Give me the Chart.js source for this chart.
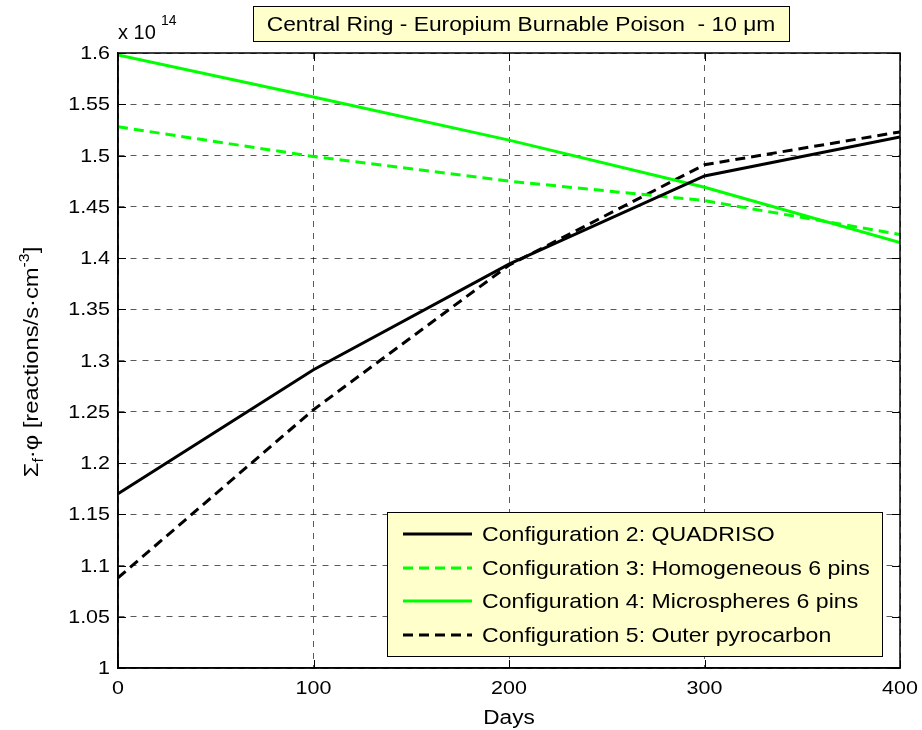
<!DOCTYPE html>
<html>
<head>
<meta charset="utf-8">
<script src="https://cdn.jsdelivr.net/npm/chart.js@4/dist/chart.umd.min.js"></script>
<style>
  body { margin: 0; background: #fff; }
  #wrap { width: 922px; height: 730px; }
</style>
</head>
<body>
<div id="wrap"><canvas id="myChart" width="922" height="730"></canvas></div>
<script>
// reaction rate in units of 1e14, sampled every 100 days
const days = [0, 100, 200, 300, 400];
const config2 = [1.170, 1.291, 1.394, 1.480, 1.518];
const config3 = [1.528, 1.499, 1.475, 1.456, 1.423];
const config4 = [1.598, 1.557, 1.515, 1.469, 1.415];
const config5 = [1.088, 1.252, 1.393, 1.491, 1.523];
const seriesNames = [
    'Configuration 2: QUADRISO',
    'Configuration 3: Homogeneous 6 pins',
    'Configuration 4: Microspheres 6 pins',
    'Configuration 5: Outer pyrocarbon'
];
const xTicks = [0, 100, 200, 300, 400];
const yTicks = [1, 1.05, 1.1, 1.15, 1.2, 1.25, 1.3, 1.35, 1.4, 1.45, 1.5, 1.55, 1.6];

const FONT = 'Arial, "Liberation Sans", Helvetica, sans-serif';
const STRETCH = 1.13; // text is drawn slightly wide
Chart.defaults.font.family = FONT;
Chart.defaults.color = '#000';

function points(values) {
    return days.map((d, i) => ({ x: d, y: values[i] }));
}

// single line of horizontally stretched text
function wideText(ctx, text, x, y, size, align, baseline, stretch) {
    ctx.save();
    ctx.font = size + 'px ' + FONT;
    ctx.textAlign = align;
    ctx.textBaseline = baseline;
    ctx.translate(x, y);
    ctx.scale(stretch || STRETCH, 1);
    ctx.fillText(text, 0, 0);
    ctx.restore();
}

// text pieces in a row with sub/superscripts, starting at 0,0 of the current transform
function richText(ctx, parts, x, y, measureOnly) {
    let w = 0;
    parts.forEach(p => {
        ctx.font = p.size + 'px ' + FONT;
        if (!measureOnly) ctx.fillText(p.t, x + w, y + (p.dy || 0));
        w += ctx.measureText(p.t).width;
    });
    return w;
}

const decorations = {
    id: 'decorations',
    afterDraw(chart) {
        const ctx = chart.ctx;
        const area = chart.chartArea;
        const xs = chart.scales.x, ys = chart.scales.y;
        ctx.save();
        ctx.fillStyle = '#000';

        // axes box
        ctx.strokeStyle = '#000';
        ctx.lineWidth = 1.5;
        ctx.strokeRect(area.left, area.top, area.right - area.left, area.bottom - area.top);

        // inward tick marks on all four sides
        ctx.lineWidth = 1;
        ctx.beginPath();
        yTicks.forEach(v => {
            const py = Math.round(ys.getPixelForValue(v)) + 0.5;
            ctx.moveTo(area.left, py); ctx.lineTo(area.left + 8, py);
            ctx.moveTo(area.right, py); ctx.lineTo(area.right - 8, py);
        });
        xTicks.forEach(v => {
            const px = Math.round(xs.getPixelForValue(v)) + 0.5;
            ctx.moveTo(px, area.bottom); ctx.lineTo(px, area.bottom - 8);
            ctx.moveTo(px, area.top); ctx.lineTo(px, area.top + 8);
        });
        ctx.stroke();

        // tick labels
        yTicks.forEach(v => {
            wideText(ctx, String(+v.toFixed(2)), area.left - 8, ys.getPixelForValue(v) + 1, 19, 'right', 'middle');
        });
        xTicks.forEach(v => {
            wideText(ctx, String(v), xs.getPixelForValue(v), 694, 19, 'center', 'alphabetic');
        });

        // title box
        ctx.fillStyle = '#ffffcc';
        ctx.fillRect(253, 6, 536, 35);
        ctx.strokeStyle = '#000';
        ctx.lineWidth = 1;
        ctx.strokeRect(253.5, 6.5, 536, 35);
        ctx.fillStyle = '#000';
        wideText(ctx, 'Central Ring - Europium Burnable Poison  - 10 \u03bcm', 521, 31, 20, 'center', 'alphabetic', 1.14);

        // exponent
        wideText(ctx, 'x 10', 118, 39, 20, 'left', 'alphabetic', 1.0);
        wideText(ctx, '14', 161, 25, 14, 'left', 'alphabetic', 1.0);

        // x axis title
        wideText(ctx, 'Days', (area.left + area.right) / 2, 724, 20, 'center', 'alphabetic');

        // y axis title, rotated
        const yParts = [
            { t: '\u03a3', size: 21 },
            { t: 'f', size: 14, dy: 5 },
            { t: '\u00b7\u03c6 [reactions/s\u00b7cm', size: 21 },
            { t: '-3', size: 14, dy: -9 },
            { t: ']', size: 21 }
        ];
        ctx.textAlign = 'left';
        ctx.textBaseline = 'alphabetic';
        const yw = richText(ctx, yParts, 0, 0, true) * STRETCH;
        ctx.save();
        ctx.translate(38, 362);
        ctx.rotate(-Math.PI / 2);
        ctx.translate(-yw / 2, 0);
        ctx.scale(STRETCH, 1);
        richText(ctx, yParts, 0, 0, false);
        ctx.restore();

        // legend
        const lx = 387, ly = 512, lw = 495, lh = 144;
        ctx.fillStyle = '#ffffcc';
        ctx.fillRect(lx, ly, lw, lh);
        ctx.strokeStyle = '#000';
        ctx.lineWidth = 1;
        ctx.strokeRect(lx + 0.5, ly + 0.5, lw, lh);
        const rows = [534, 568, 601, 635];
        chart.data.datasets.forEach((ds, i) => {
            const ry = rows[i];
            ctx.save();
            ctx.strokeStyle = ds.borderColor;
            ctx.lineWidth = ds.borderWidth;
            ctx.setLineDash(ds.borderDash || []);
            ctx.beginPath();
            ctx.moveTo(403, ry); ctx.lineTo(472, ry);
            ctx.stroke();
            ctx.restore();
            ctx.fillStyle = '#000';
            wideText(ctx, ds.label, 482, ry + 1, 21, 'left', 'middle', 1.1);
        });

        ctx.restore();
    }
};

const ctx = document.getElementById('myChart').getContext('2d');
new Chart(ctx, {
    type: 'line',
    data: {
        datasets: [
            { label: seriesNames[0], data: points(config2), borderColor: '#000000', borderWidth: 3 },
            { label: seriesNames[1], data: points(config3), borderColor: '#00ff00', borderWidth: 3, borderDash: [10, 6] },
            { label: seriesNames[2], data: points(config4), borderColor: '#00ff00', borderWidth: 3 },
            { label: seriesNames[3], data: points(config5), borderColor: '#000000', borderWidth: 3, borderDash: [10, 6] }
        ].map(ds => Object.assign(ds, { pointRadius: 0, fill: false, tension: 0 }))
    },
    options: {
        responsive: false,
        animation: false,
        layout: { padding: { left: 0, top: 53, right: 22, bottom: 0 } },
        plugins: {
            legend: { display: false },
            tooltip: { enabled: false }
        },
        scales: {
            x: {
                type: 'linear',
                min: 0,
                max: 400,
                afterBuildTicks: scale => { scale.ticks = xTicks.map(v => ({ value: v })); },
                afterFit: scale => { scale.height = 62; },
                ticks: { display: false },
                grid: { color: 'rgba(0,0,0,0.65)', lineWidth: 1, drawTicks: false },
                border: { display: true, color: '#000', width: 1.5, dash: [6, 6] }
            },
            y: {
                min: 1,
                max: 1.6,
                afterBuildTicks: scale => { scale.ticks = yTicks.map(v => ({ value: v })); },
                afterFit: scale => { scale.width = 118; },
                ticks: { display: false },
                grid: { color: 'rgba(0,0,0,0.65)', lineWidth: 1, drawTicks: false },
                border: { display: true, color: '#000', width: 1.5, dash: [6, 6] }
            }
        }
    },
    plugins: [decorations]
});
</script>
</body>
</html>
